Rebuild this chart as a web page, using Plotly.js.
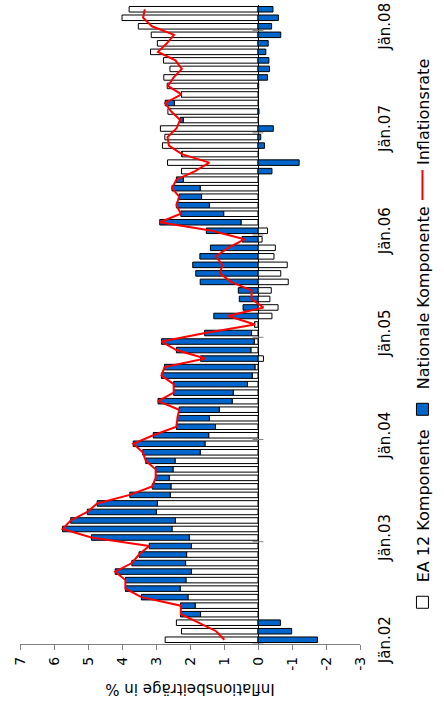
<!DOCTYPE html>
<html><head><meta charset="utf-8">
<script src="https://cdn.plot.ly/plotly-3.0.1.min.js"></script>
<style>
html,body{margin:0;padding:0;width:444px;height:709px;overflow:hidden;background:#fff;}
#chart{position:absolute;left:0;top:0;width:709px;height:444px;transform-origin:0 0;transform:translate(0px,709px) rotate(-90deg);}
</style></head><body><div id="chart"></div>
<script>
// month categories Jän.02 ... Mär.08
const monthNames = ['Jän','Feb','Mär','Apr','Mai','Jun','Jul','Aug','Sep','Okt','Nov','Dez'];
const yearCodes = ['02','03','04','05','06','07','08'];
const nMonths = 75;
const months = [];
for (let y = 0; y < yearCodes.length; y++) {
  for (let m = 0; m < 12; m++) {
    if (months.length < nMonths) months.push(monthNames[m] + '.' + yearCodes[y]);
  }
}
const yearTickLabels = ['Jän.02','Jän.03','Jän.04','Jän.05','Jän.06','Jän.07','Jän.08'];

const ea12 = [2.73,2.25,2.40,1.69,1.85,2.06,2.29,2.12,1.96,2.13,2.10,1.96,
  2.02,2.53,2.43,2.99,2.96,2.58,2.56,2.61,2.50,2.44,1.70,1.56,
  1.45,1.25,1.43,1.14,0.76,0.73,0.31,0.17,0.09,-0.16,0.21,0.11,
  0.19,0.10,-0.41,-0.59,-0.35,-0.39,-0.89,-0.67,-0.86,-0.47,-0.51,-0.12,
  -0.28,0.50,1.01,1.43,1.66,1.70,2.20,2.25,2.66,2.24,2.81,2.74,
  2.87,2.20,2.65,2.46,2.25,2.67,2.77,2.59,2.78,3.16,2.96,3.14,
  3.52,4.00,3.79];
const national = [-1.75,-0.99,-0.66,0.59,0.43,1.37,1.61,1.78,2.24,1.58,1.40,1.24,
  2.88,3.22,3.08,2.03,1.77,1.19,0.55,0.40,0.51,0.86,1.69,2.11,
  1.63,1.15,0.94,1.18,2.18,1.75,2.17,2.67,2.66,1.69,2.19,2.73,
  1.38,0.00,1.30,0.44,0.55,0.58,1.70,1.83,1.92,1.71,1.40,0.47,
  1.52,2.39,1.26,0.97,0.66,0.83,0.20,-0.41,-1.21,0.00,-0.19,-0.08,
  -0.45,0.09,-0.03,0.27,0.00,-0.02,-0.28,-0.34,-0.32,-0.23,-0.30,-0.67,
  -0.40,-0.60,-0.44];
const inflation = [0.99,1.23,1.75,2.27,2.27,3.43,3.90,3.90,4.20,3.71,3.50,3.20,
  4.90,5.75,5.51,5.02,4.73,3.77,3.11,3.01,3.01,3.30,3.39,3.67,
  3.08,2.40,2.37,2.32,2.94,2.48,2.48,2.84,2.75,1.55,2.40,2.84,
  1.55,0.09,0.88,-0.16,0.19,0.19,0.80,1.12,1.05,1.24,0.88,0.40,
  1.35,2.89,2.27,2.40,2.32,2.53,2.40,1.85,1.43,2.24,2.62,2.66,
  2.40,2.29,2.55,2.73,2.25,2.65,2.48,2.24,2.43,2.94,2.68,2.47,
  3.12,3.38,3.33];
const valueTicks = [-3,-2,-1,0,1,2,3,4,5,6,7];

const yearTickVals = months.filter((m, i) => i % 12 === 0);
const shapes = [];
for (let k = 0; k < yearTickVals.length; k++) {
  const xb = months.indexOf(yearTickVals[k]) - 0.5;
  shapes.push({type:'line', xref:'x', yref:'y', x0:xb, x1:xb, y0:-0.16, y1:0.16,
    line:{color:'#808080', width:1}});
}

const traces = [
  {type:'bar', name:'EA 12 Komponente', x:months, y:ea12, legend:'legend',
   marker:{color:'#ffffff', line:{color:'#000000', width:1}}, hoverinfo:'skip'},
  {type:'bar', name:'Nationale Komponente', x:months, y:national, legend:'legend2',
   marker:{color:'#0066cc', line:{color:'#000000', width:1}}, hoverinfo:'skip'},
  {type:'scatter', mode:'lines', name:'Inflationsrate', x:months, y:inflation, legend:'legend3',
   line:{color:'#ff0000', width:2}, hoverinfo:'skip'}
];

const legendBase = {orientation:'h', y:-0.184, yanchor:'middle', xanchor:'left',
  font:{size:16}, bgcolor:'rgba(0,0,0,0)', borderwidth:0};

const layout = {
  width:709, height:444,
  margin:{l:65, r:4.5, t:19.5, b:72},
  paper_bgcolor:'#ffffff', plot_bgcolor:'#ffffff',
  barmode:'relative', bargap:0.35,
  font:{family:'DejaVu Sans, sans-serif', size:14, color:'#000000'},
  showlegend:true,
  legend:Object.assign({}, legendBase, {x:0.034}),
  legend2:Object.assign({}, legendBase, {x:0.336}),
  legend3:Object.assign({}, legendBase, {x:0.687}),
  xaxis:{type:'category', categoryorder:'array', categoryarray:months,
    tickmode:'array', tickvals:yearTickVals, ticktext:yearTickLabels,
    showgrid:false, showline:false, zeroline:false, ticks:'',
    ticklabelstandoff:14, tickangle:0, range:[-0.5,74.5], automargin:false,
    tickfont:{size:15}},
  yaxis:{range:[-3,7], tickmode:'array', tickvals:valueTicks, ticktext:valueTicks.map(String),
    showgrid:false, showline:true, linecolor:'#808080', linewidth:1,
    ticks:'outside', ticklen:5, tickcolor:'#808080', automargin:false,
    ticklabelstandoff:4,
    zeroline:true, zerolinecolor:'#000000', zerolinewidth:1,
    title:{text:'Inflationsbeiträge in %', font:{size:15}, standoff:8},
    tickfont:{size:14}},
  shapes:shapes
};

Plotly.newPlot('chart', traces, layout, {displayModeBar:false, staticPlot:true, responsive:false});
</script></body></html>
